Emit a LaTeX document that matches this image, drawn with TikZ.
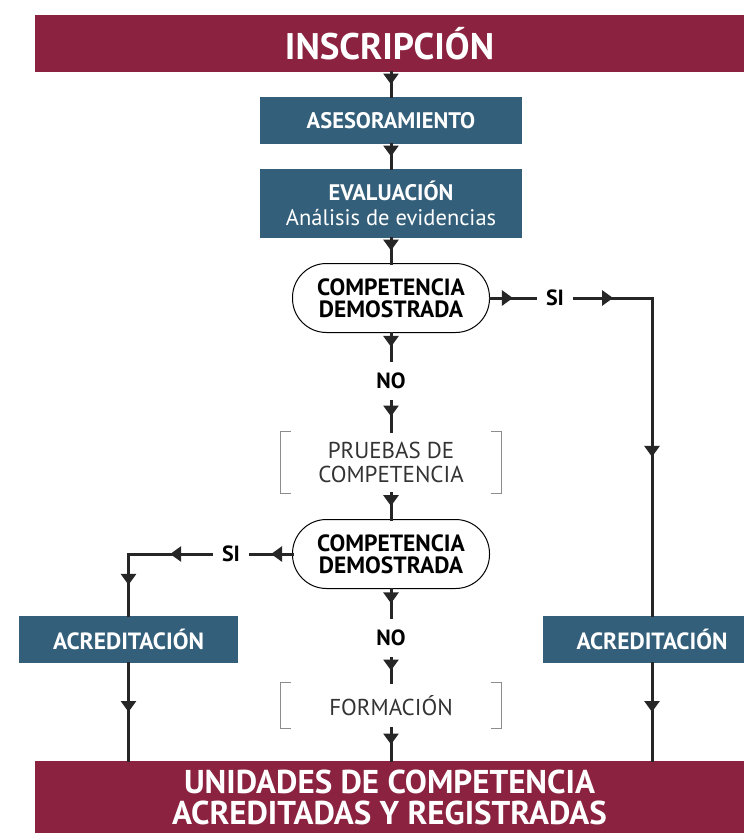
\documentclass[tikz,border=0pt]{standalone}
\usepackage{fontspec}
\setmainfont{PT Sans}
\usetikzlibrary{
    positioning,
    calc,
    arrows.meta,
    decorations.markings
}
\definecolor{wine}{HTML}{8B2240}
\definecolor{steel}{HTML}{335F7A}

\begin{document}
\begin{tikzpicture}[x=1pt, y=-1pt]
  \useasboundingbox (0,0) rectangle (744,833);

  % Styles for boxes and connectors
  \tikzset{
    banner/.style={fill=wine, text=white, font=\fontsize{37}{37}\selectfont\bfseries, minimum width=709pt, align=center, inner sep=0pt},
    stage/.style={fill=steel, text=white, font=\fontsize{22.5}{25}\selectfont\bfseries, minimum width=262pt, align=center, inner sep=0pt},
    decision/.style={draw, line width=1pt, rounded corners=34pt, minimum width=197pt, minimum height=69pt, align=center, font=\fontsize{23.5}{22}\selectfont\bfseries, inner sep=0pt},
    answer/.style={font=\fontsize{22}{22}\selectfont\bfseries, inner xsep=10pt, inner ysep=12pt},
    optional/.style={text=black!80, font=\fontsize{23}{24}\selectfont, minimum width=220pt, align=center, inner sep=0pt},
    bracket/.style={draw=black!45, line width=1pt},
    flow/.style={line width=3pt, line cap=rect, black!85, postaction={decorate},
      decoration={markings, mark=at position 0.5 with {\arrow{Triangle[width=15pt,length=11pt]}}}}
  };

  % Main column
  \node[banner, minimum height=57pt] (inscr) at (389.5,43.5) {INSCRIPCIÓN};
  \node[stage, minimum height=47pt] (ases) at (391,120.5) {ASESORAMIENTO};
  \node[stage, minimum height=69pt] (eval) at (391,203.5) {EVALUACIÓN\\{\mdseries Análisis de evidencias}};
  \node[decision] (comp1) at (391,298) {COMPETENCIA\\DEMOSTRADA};
  \node[answer] (no1) at (391,381) {NO};
  \node[optional, minimum height=61pt] (pruebas) at (391,462.5) {PRUEBAS DE\\COMPETENCIA};
  \node[decision] (comp2) at (391,554) {COMPETENCIA\\DEMOSTRADA};
  \node[answer] (no2) at (391,638) {NO};
  \node[optional, minimum height=45pt] (formac) at (391,705.5) {FORMACIÓN};
  \node[banner, minimum height=72pt, font=\fontsize{33}{31}\selectfont\bfseries] (final) at (389.5,797) {UNIDADES DE COMPETENCIA\\ACREDITADAS Y REGISTRADAS};

  % Side branches
  \node[answer] (si1) at (555,298) {SI};
  \node[answer] (si2) at (231,554) {SI};
  \node[stage, minimum width=219pt, minimum height=47pt, font=\fontsize{23.5}{25}\selectfont\bfseries] (acredL) at (128.5,639.5) {ACREDITACIÓN};
  \node[stage, minimum width=219pt, minimum height=47pt, font=\fontsize{23.5}{25}\selectfont\bfseries] (acredR) at (652,639.5) {ACREDITACIÓN};
  \coordinate (turnR) at (si1 -| acredR);
  \coordinate (turnL) at (si2 -| acredL);

  % Brackets round the optional steps
  \foreach \nm in {pruebas, formac} {
    \draw[bracket] ([xshift=10pt]\nm.north west) -- (\nm.north west) -- (\nm.south west) -- ([xshift=10pt]\nm.south west);
    \draw[bracket] ([xshift=-10pt]\nm.north east) -- (\nm.north east) -- (\nm.south east) -- ([xshift=-10pt]\nm.south east);
  }

  % Connectors
  \draw[flow] (inscr.south -| ases) -- (ases);
  \draw[flow] (ases) -- (eval);
  \draw[flow] (eval) -- (comp1);
  \draw[flow] (comp1) -- (no1);
  \draw[flow] (no1) -- (pruebas);
  \draw[flow] (pruebas) -- (comp2);
  \draw[flow] (comp2) -- (no2);
  \draw[flow] (no2) -- (formac);
  \draw[flow] (formac) -- (formac |- final.north);
  % --- SI on the right
  \draw[flow] (comp1) -- (si1);
  \draw[flow] (si1) -- (turnR);
  \draw[flow] (turnR) -- (acredR);
  \draw[flow] (acredR) -- (acredR |- final.north);
  % --- SI on the left
  \draw[flow] (comp2) -- (si2);
  \draw[flow] (si2) -- (turnL);
  \draw[flow] (turnL) -- (acredL);
  \draw[flow] (acredL) -- (acredL |- final.north);
\end{tikzpicture}
\end{document}
